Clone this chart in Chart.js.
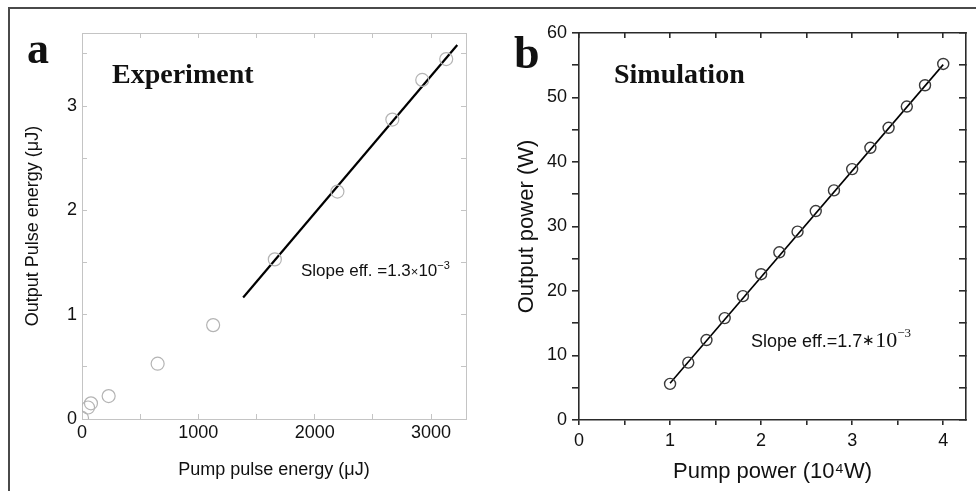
<!DOCTYPE html>
<html>
<head>
<meta charset="utf-8">
<script src="https://cdn.jsdelivr.net/npm/chart.js@4"></script>
<style>
  body { margin: 0; background: #fff; }
  #wrap { position: relative; width: 976px; height: 491px; overflow: hidden; }
  #frame { position: absolute; left: 8px; top: 7px; right: 0; bottom: -4px;
           border-top: 2px solid #4a4a4a; border-left: 2px solid #4a4a4a; }
  canvas { position: absolute; top: 0; }
  #chartA { left: 0; }
  #chartB { left: 488px; }
</style>
</head>
<body>
<div id="wrap">
  <div id="frame"></div>
  <canvas id="chartA" width="488" height="491"></canvas>
  <canvas id="chartB" width="488" height="491"></canvas>
</div>
<script>
// panel a - experiment
const expPump = [0, 52, 77, 229, 650, 1127, 1657, 2195, 2667, 2924, 3130];
const expOut = [0.01, 0.11, 0.15, 0.22, 0.53, 0.90, 1.53, 2.18, 2.87, 3.25, 3.45];
const expFitX = [1385, 3225];
const expFitY = [1.165, 3.585];
const expXTicks = [0, 500, 1000, 1500, 2000, 2500, 3000];
const expYTicks = [0, 0.5, 1, 1.5, 2, 2.5, 3, 3.5];

// panel b - simulation
const simPump = [1.0, 1.2, 1.4, 1.6, 1.8, 2.0, 2.2, 2.4, 2.6, 2.8, 3.0, 3.2, 3.4, 3.6, 3.8, 4.0];
const simOut = [5.6, 8.9, 12.4, 15.8, 19.2, 22.6, 26.0, 29.2, 32.4, 35.6, 38.9, 42.2, 45.3, 48.6, 51.9, 55.2];
const simFitX = [1.0, 4.0];
const simFitY = [5.7, 55.1];
const simXTicks = [0, 0.5, 1, 1.5, 2, 2.5, 3, 3.5, 4];
const simYTicks = [0, 5, 10, 15, 20, 25, 30, 35, 40, 45, 50, 55, 60];

const SANS = "'Liberation Sans', Arial, sans-serif";
const SERIF = "'Liberation Serif', 'Times New Roman', serif";

const toPts = (xs, ys) => xs.map((x, i) => ({ x: x, y: ys[i] }));

// draws a row of text pieces, each with its own font and vertical shift
const drawRow = (ctx, x, y, parts) => {
  ctx.save();
  ctx.fillStyle = "#111";
  ctx.textBaseline = "alphabetic";
  ctx.textAlign = "left";
  parts.forEach((p) => {
    ctx.font = p.font;
    ctx.fillText(p.t, x, y + (p.dy || 0));
    x += ctx.measureText(p.t).width + (p.gap || 0);
  });
  ctx.restore();
};

const textPlugin = {
  id: "panelText",
  afterDraw(chart, args, opts) {
    (opts.rows || []).forEach((r) => drawRow(chart.ctx, r.x, r.y, r.parts));
  },
};

const axis = (o) => ({
  type: "linear",
  position: o.position,
  min: o.min,
  max: o.max,
  border: { display: true, color: o.color, width: o.lineWidth },
  grid: {
    drawOnChartArea: false,
    drawTicks: true,
    tickLength: o.tick,
    color: o.color,
    lineWidth: o.lineWidth,
  },
  ticks: {
    display: o.labels !== false,
    autoSkip: false,
    maxRotation: 0,
    padding: o.pad || 0,
    color: "#111",
    font: { family: SANS, size: 18 },
    callback: (v) => (Math.abs(v / o.major - Math.round(v / o.major)) < 1e-6 ? v : ""),
  },
  afterBuildTicks: (s) => {
    s.ticks = o.ticks.map((v) => ({ value: v }));
  },
  title: o.title
    ? {
        display: true,
        text: o.title,
        color: "#111",
        font: { family: SANS, size: o.titleSize },
        padding: o.titlePad,
      }
    : { display: false },
  afterFit: (s) => {
    if (o.width !== undefined) s.width = o.width;
    if (o.height !== undefined) s.height = o.height;
  },
});

const grayA = "#c4c4c4";

new Chart(document.getElementById("chartA"), {
  type: "scatter",
  data: {
    datasets: [
      {
        data: toPts(expPump, expOut),
        pointStyle: "circle",
        pointRadius: 6.5,
        borderColor: "#b4b4b4",
        borderWidth: 1.2,
        backgroundColor: "rgba(255,255,255,0)",
      },
      {
        data: toPts(expFitX, expFitY),
        showLine: true,
        pointRadius: 0,
        borderColor: "#000",
        borderWidth: 2.2,
      },
    ],
  },
  options: {
    responsive: false,
    animation: false,
    layout: { padding: { top: 33, right: 22, left: 0, bottom: 0 } },
    plugins: {
      legend: { display: false },
      tooltip: { enabled: false },
      panelText: {
        rows: [
          { x: 27, y: 63, parts: [{ t: "a", font: "bold 44px " + SERIF }] },
          { x: 112, y: 83, parts: [{ t: "Experiment", font: "bold 28px " + SERIF }] },
          {
            x: 301,
            y: 276,
            parts: [
              { t: "Slope eff. =1.3", font: "17px " + SANS },
              { t: "×", font: "13px " + SANS },
              { t: "10", font: "17px " + SANS },
              { t: "−3", font: "11px " + SANS, dy: -7 },
            ],
          },
        ],
      },
    },
    scales: {
      x: axis({
        position: "bottom", min: 0, max: 3300, ticks: expXTicks, major: 1000,
        color: grayA, lineWidth: 1, tick: -5, pad: 8, height: 72,
        title: "Pump pulse energy (μJ)", titleSize: 18, titlePad: { top: 0, bottom: 10 },
      }),
      y: axis({
        position: "left", min: 0, max: 3.7, ticks: expYTicks, major: 1,
        color: grayA, lineWidth: 1, tick: -5, pad: 10, width: 82,
        title: "Output Pulse energy (μJ)", titleSize: 18, titlePad: { top: 22, bottom: 0 },
      }),
      x2: axis({
        position: "top", min: 0, max: 3300, ticks: expXTicks, major: 1000,
        color: grayA, lineWidth: 1, tick: -5, labels: false, height: 0,
      }),
      y2: axis({
        position: "right", min: 0, max: 3.7, ticks: expYTicks, major: 1,
        color: grayA, lineWidth: 1, tick: -5, labels: false, width: 0,
      }),
    },
  },
  plugins: [textPlugin],
});

const darkB = "#2a2a2a";

new Chart(document.getElementById("chartB"), {
  type: "scatter",
  data: {
    datasets: [
      {
        data: toPts(simPump, simOut),
        pointStyle: "circle",
        pointRadius: 5.5,
        borderColor: "#3a3a3a",
        borderWidth: 1.4,
        backgroundColor: "rgba(255,255,255,0)",
      },
      {
        data: toPts(simFitX, simFitY),
        showLine: true,
        pointRadius: 0,
        borderColor: "#000",
        borderWidth: 1.6,
      },
    ],
  },
  options: {
    responsive: false,
    animation: false,
    layout: { padding: { top: 33, right: 10, left: 0, bottom: 0 } },
    plugins: {
      legend: { display: false },
      tooltip: { enabled: false },
      panelText: {
        rows: [
          { x: 26, y: 68, parts: [{ t: "b", font: "bold 46px " + SERIF }] },
          { x: 126, y: 83, parts: [{ t: "Simulation", font: "bold 28px " + SERIF }] },
          {
            x: 263,
            y: 347,
            parts: [
              { t: "Slope eff.=1.7", font: "18px " + SANS },
              { t: "∗", font: "15px " + SERIF, dy: -2 },
              { t: "10", font: "22px " + SERIF },
              { t: "−3", font: "13px " + SERIF, dy: -10 },
            ],
          },
        ],
      },
    },
    scales: {
      x: axis({
        position: "bottom", min: 0, max: 4.25, ticks: simXTicks, major: 1,
        color: darkB, lineWidth: 1.6, tick: 5, pad: 5, height: 71,
        title: "Pump power (10⁴W)", titleSize: 22, titlePad: { top: 0, bottom: 6 },
      }),
      y: axis({
        position: "left", min: 0, max: 60, ticks: simYTicks, major: 10,
        color: darkB, lineWidth: 1.6, tick: 7, pad: 5, width: 91,
        title: "Output power (W)", titleSize: 22, titlePad: { top: 26, bottom: 0 },
      }),
      x2: axis({
        position: "top", min: 0, max: 4.25, ticks: simXTicks, major: 1,
        color: darkB, lineWidth: 1.6, tick: -5, labels: false, height: 0,
      }),
      y2: axis({
        position: "right", min: 0, max: 60, ticks: simYTicks, major: 10,
        color: darkB, lineWidth: 1.6, tick: -7, labels: false, width: 0,
      }),
    },
  },
  plugins: [textPlugin],
});
</script>
</body>
</html>
